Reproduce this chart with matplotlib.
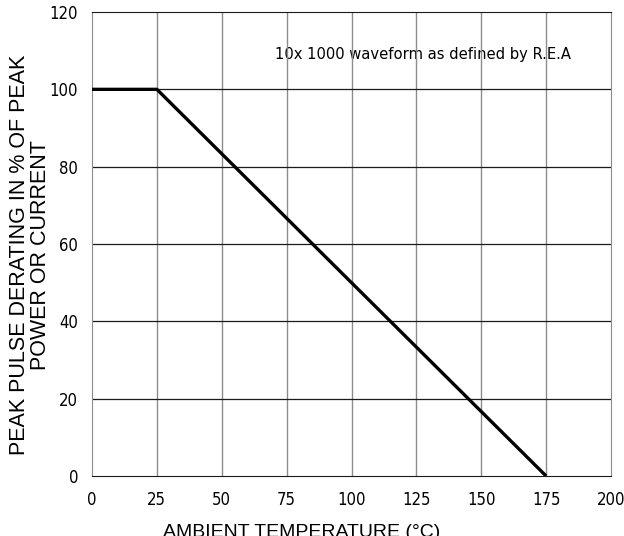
import matplotlib
matplotlib.use('Agg')
import matplotlib.pyplot as plt

# derating curve (ambient temperature in C, % of peak)
temp = [0, 25, 175]
derating = [100, 100, 0]

xticks = [0, 25, 50, 75, 100, 125, 150, 175, 200]
yticks = [0, 20, 40, 60, 80, 100, 120]

fig = plt.figure(figsize=(6.24, 5.36), dpi=100)
ax = fig.add_axes([92/624, 1 - 476/536, (611 - 92)/624, (476 - 12)/536])

ax.set_xlim(0, 200)
ax.set_ylim(0, 120)
ax.set_xticks(xticks)
ax.set_yticks(yticks)
ax.set_xticklabels([str(t) for t in xticks], family='DejaVu Sans', stretch='condensed', fontsize=12)
ax.set_yticklabels([str(t) for t in yticks], family='DejaVu Sans', stretch='condensed', fontsize=12)
ax.tick_params(length=0)
ax.tick_params(axis='y', pad=10)
ax.tick_params(axis='x', pad=11)

# grid: gray verticals, black horizontals
for x in xticks[1:-1]:
    ax.axvline(x, color='#8c8c8c', lw=1.0, zorder=1)
for y in yticks[1:-1]:
    ax.axhline(y, color='#1a1a1a', lw=0.9, zorder=1)
for side in ['left', 'right']:
    ax.spines[side].set_color('#8c8c8c')
for side in ['top', 'bottom']:
    ax.spines[side].set_color('#1a1a1a')

ax.plot(temp, derating, color='black', lw=2.4, solid_capstyle='butt', zorder=3)

ax.text(70.5, 109, '10x 1000 waveform as defined by R.E.A', family='DejaVu Sans',
        stretch='condensed', fontsize=11.8, va='center', ha='left', zorder=0)

fig.text(30/624, 1 - 255/536, 'PEAK PULSE DERATING IN % OF PEAK\nPOWER OR CURRENT',
         rotation=90, ha='center', va='center', family='Liberation Sans',
         fontsize=15.5, linespacing=1.0)
fig.text(302/624, 1 - 524/536, 'AMBIENT TEMPERATURE (\u00b0C)', ha='center', va='top',
         family='Liberation Sans', fontsize=14)

plt.savefig('out.png', dpi=100)
